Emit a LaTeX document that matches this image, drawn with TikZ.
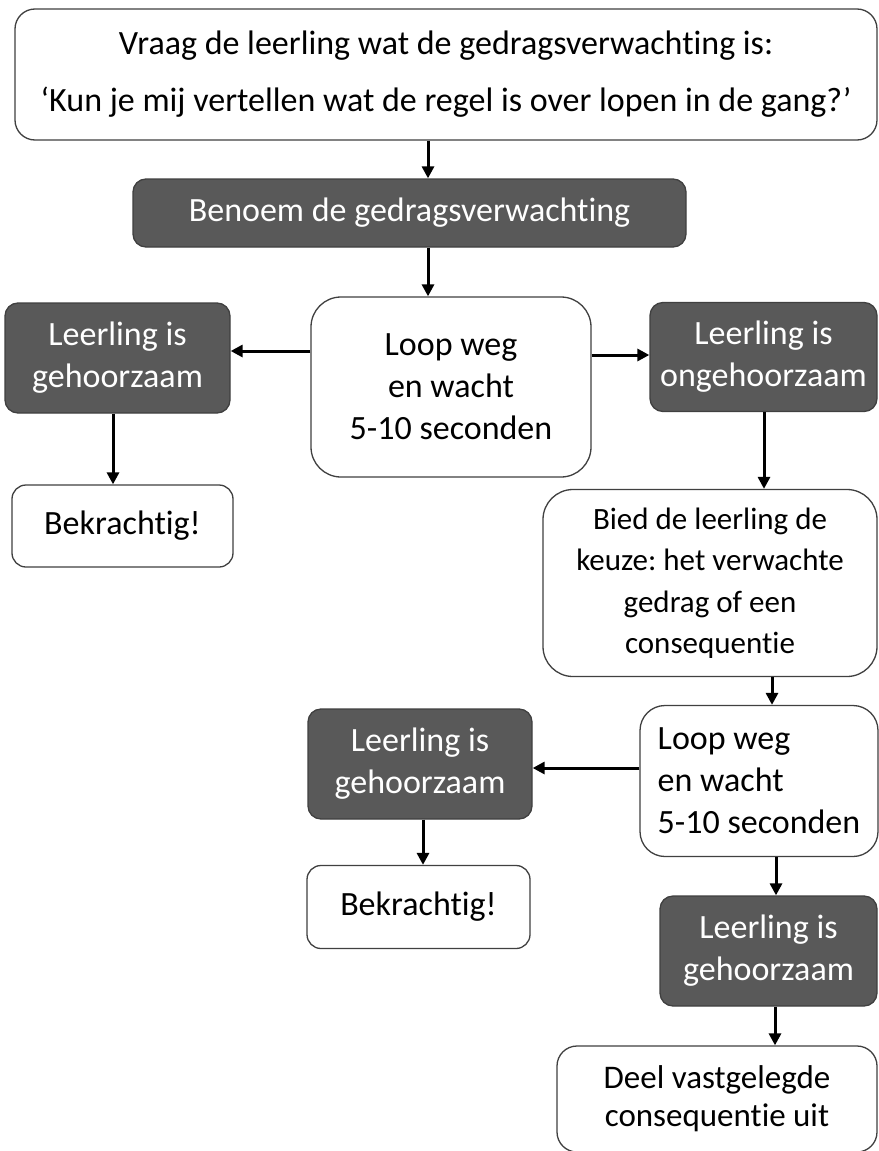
\documentclass[tikz,border=0pt]{standalone}
\usepackage{fontspec}
\setmainfont[Ligatures={NoCommon}]{Carlito}
\frenchspacing
\usetikzlibrary{arrows.meta}
\definecolor{darkfill}{HTML}{595959}
\definecolor{edgegray}{HTML}{404040}
\tikzset{
  boxbase/.style={rectangle, draw=edgegray, line width=1.3pt, inner sep=0pt, align=center},
  wbox/.style={boxbase, fill=white, text=black, rounded corners=#1},
  wbox/.default=20pt,
  dbox/.style={boxbase, fill=darkfill, text=white, rounded corners=13pt},
  arr/.style={line width=3pt, -{Triangle[length=12pt,width=12pt]}},
  txt/.style={font=\fontsize{34}{42}\selectfont}
}
\begin{document}
\begin{tikzpicture}[x=1pt,y=-1pt]
\useasboundingbox (0,0) rectangle (878,1151);
\fill[white] (0,0) rectangle (878,1151);

\node[wbox=20pt, minimum width=862pt, minimum height=131pt, font=\fontsize{34}{57}\selectfont] (top) at (446,74.5)
  {Vraag de leerling wat de gedragsverwachting is:\\[0pt]‘Kun je mij vertellen wat de regel is over lopen in de gang?’};
\node[dbox, minimum width=553pt, minimum height=68pt, txt] (benoem) at (409.5,213) {Benoem de gedragsverwachting};
\node[wbox=30pt, minimum width=280pt, minimum height=180pt, txt] (loopa) at (451,387) {Loop weg\\en wacht\\5-10 seconden};
\node[dbox, minimum width=225pt, minimum height=110pt, txt] (gha) at (117.5,358) {Leerling is\\gehoorzaam};
\node[dbox, minimum width=227pt, minimum height=109pt, txt] (ong) at (763.5,357) {Leerling is\\ongehoorzaam};
\node[wbox=14pt, minimum width=221pt, minimum height=82pt, txt] (bka) at (122.5,526) {Bekrachtig!};
\node[wbox=30pt, minimum width=334pt, minimum height=187pt, font=\fontsize{31}{41.5}\selectfont] (bied) at (710,583)
  {Bied de leerling de\\keuze: het verwachte\\gedrag of een\\consequentie};
\node[wbox=25pt, minimum width=238pt, minimum height=151pt, txt, align=left] (loopb) at (759,781) {Loop weg\\en wacht\\5-10 seconden};
\node[dbox, minimum width=224pt, minimum height=110pt, txt] (ghb) at (420,764) {Leerling is\\gehoorzaam};
\node[wbox=14pt, minimum width=223pt, minimum height=83pt, txt] (bkb) at (418.5,907) {Bekrachtig!};
\node[dbox, minimum width=217pt, minimum height=110pt, txt] (ghc) at (768.5,951) {Leerling is\\gehoorzaam};
\node[wbox=20pt, minimum width=320pt, minimum height=106pt, font=\fontsize{33}{38}\selectfont] (deel) at (717,1099) {Deel vastgelegde\\consequentie uit};

\coordinate (xa) at (428,0);
\coordinate (xb) at (113,0);
\coordinate (xc) at (764,0);
\coordinate (xd) at (772,0);
\coordinate (xe) at (423,0);
\coordinate (xf) at (776,0);
\coordinate (xg) at (775,0);
\coordinate (ya) at (0,351);
\coordinate (yb) at (0,355);
\coordinate (yc) at (0,768);

\draw[arr] (top.south -| xa) -- (benoem.north -| xa);
\draw[arr] (benoem.south -| xa) -- (loopa.north -| xa);
\draw[arr] (loopa.west |- ya) -- (gha.east |- ya);
\draw[arr] (loopa.east |- yb) -- (ong.west |- yb);
\draw[arr] (gha.south -| xb) -- (bka.north -| xb);
\draw[arr] (ong.south -| xc) -- (bied.north -| xc);
\draw[arr] (bied.south -| xd) -- (loopb.north -| xd);
\draw[arr] (loopb.west |- yc) -- (ghb.east |- yc);
\draw[arr] (ghb.south -| xe) -- (bkb.north -| xe);
\draw[arr] (loopb.south -| xf) -- (ghc.north -| xf);
\draw[arr] (ghc.south -| xg) -- (deel.north -| xg);
\end{tikzpicture}
\end{document}
